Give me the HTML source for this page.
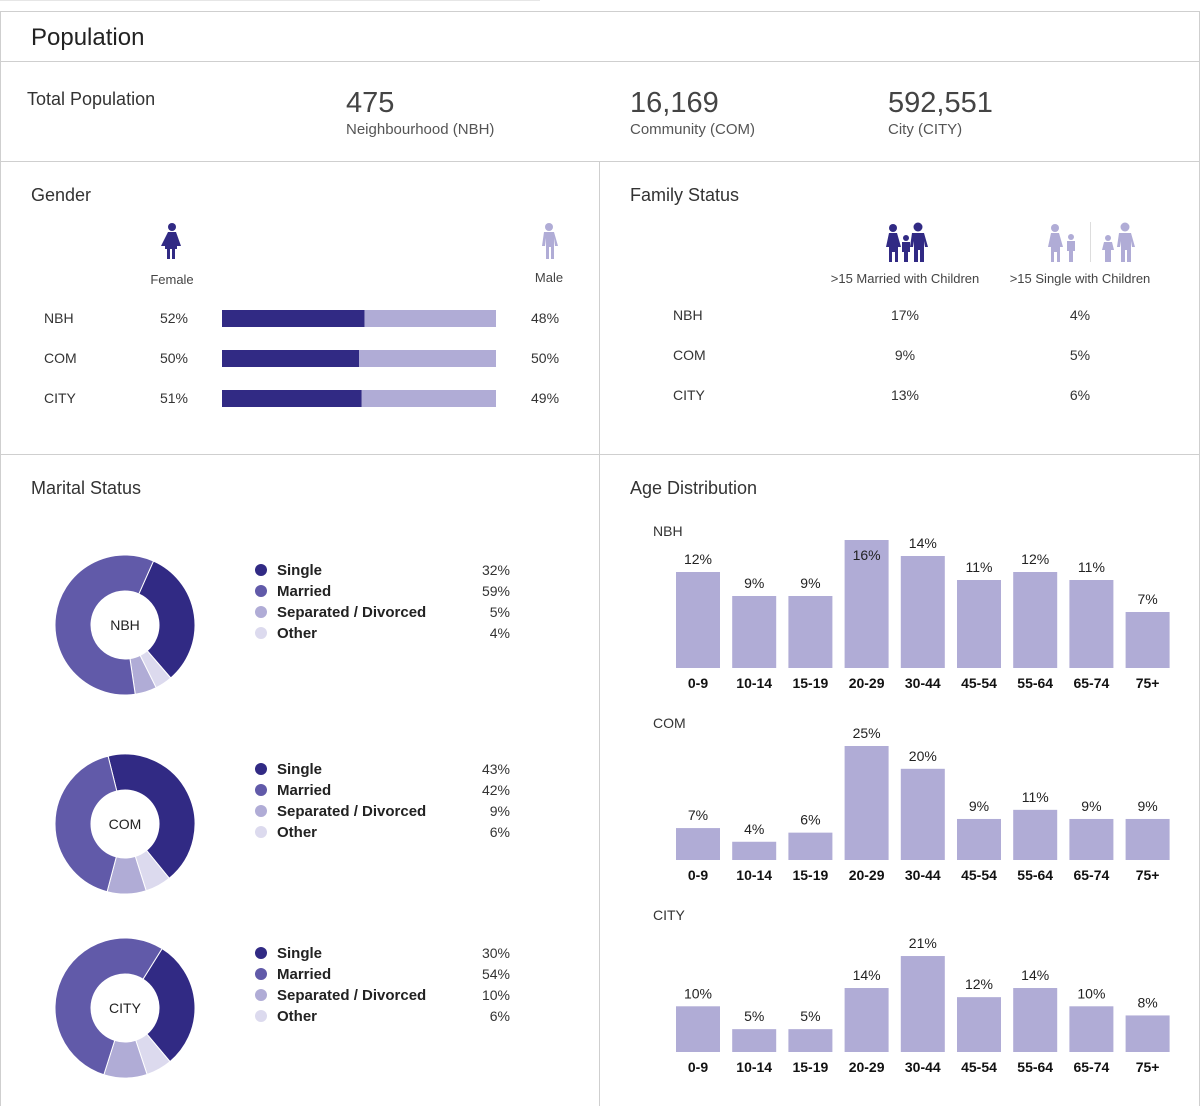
<!DOCTYPE html>
<html><head><meta charset="utf-8"><style>
body{margin:0;background:#fff;font-family:"Liberation Sans",sans-serif;}
svg text{font-family:"Liberation Sans",sans-serif;}
</style></head><body>
<svg id="s" width="1200" height="1106" xmlns="http://www.w3.org/2000/svg">
<g stroke="#cfcfcf" stroke-width="1" fill="none">
<line x1="0" y1="0.5" x2="540" y2="0.5" stroke="#e6e6e6"/>
<rect x="0.5" y="11.5" width="1199" height="1100"/>
<line x1="0" y1="61.5" x2="1200" y2="61.5"/>
<line x1="0" y1="161.5" x2="1200" y2="161.5"/>
<line x1="599.5" y1="161" x2="599.5" y2="1106"/>
<line x1="0" y1="454.5" x2="1200" y2="454.5"/>
</g>
<text x="31" y="45" font-size="24" fill="#222">Population</text>
<text x="27" y="105" font-size="18" fill="#333">Total Population</text>
<g><text x="346" y="112" font-size="29" fill="#444">475</text><text x="346" y="134" font-size="15" fill="#555">Neighbourhood (NBH)</text></g>
<g><text x="630" y="112" font-size="29" fill="#444">16,169</text><text x="630" y="134" font-size="15" fill="#555">Community (COM)</text></g>
<g><text x="888" y="112" font-size="29" fill="#444">592,551</text><text x="888" y="134" font-size="15" fill="#555">City (CITY)</text></g>

<text x="31" y="201" font-size="18" fill="#333">Gender</text>
<g fill="#312a84"><circle cx="172" cy="227" r="4"/><path d="M168 232h8l5 14h-4v3h-2v10h-3v-10h-2v10h-3v-10h-2v-3h-4z"/></g>
<text x="172" y="284" font-size="13" text-anchor="middle" fill="#444">Female</text>
<g fill="#b0acd6"><circle cx="549" cy="227" r="4"/><path d="M544 232h10l4 14h-3l-1-8v21h-3v-12h-2v12h-3v-21l-1 8h-3z"/></g>
<text x="549" y="282" font-size="13" text-anchor="middle" fill="#444">Male</text>
<g id="gender"></g>

<text x="630" y="201" font-size="18" fill="#333">Family Status</text>
<g fill="#312a84">
<circle cx="893" cy="228" r="4"/><path d="M889 233h8l4 14h-3v15h-3v-10h-3v10h-3v-15h-3z"/>
<circle cx="906" cy="238" r="3"/><path d="M902 242h8v10h-2v10h-4v-10h-2z"/>
<circle cx="918" cy="227" r="4.5"/><path d="M912 233h12l4 14h-3l-1-6v21h-4v-12h-2v12h-4v-21l-1 6h-3z"/></g>
<g fill="#b0acd6">
<circle cx="1055" cy="228" r="4"/><path d="M1051 233h8l4 14h-3v15h-3v-10h-3v10h-3v-15h-3z"/>
<circle cx="1071" cy="237" r="3"/><path d="M1067 241h8v10h-2v11h-4v-11h-2z"/>
<rect x="1090" y="222" width="1" height="40" fill="#ddd"/>
<circle cx="1108" cy="238" r="3"/><path d="M1104 242h8l2 8h-3v12h-6v-12h-3z"/>
<circle cx="1125" cy="227" r="4.5"/><path d="M1119 233h12l4 14h-3l-1-6v21h-4v-12h-2v12h-4v-21l-1 6h-3z"/></g>
<text x="905" y="283" font-size="13" text-anchor="middle" fill="#444">&gt;15 Married with Children</text>
<text x="1080" y="283" font-size="13" text-anchor="middle" fill="#444">&gt;15 Single with Children</text>
<g id="family"></g>

<text x="31" y="494" font-size="18" fill="#333">Marital Status</text>
<g id="marital"></g>
<text x="630" y="494" font-size="18" fill="#333">Age Distribution</text>
<g id="age"></g>
</svg>
<script>
const NS="http://www.w3.org/2000/svg";
const geoLabels=["NBH","COM","CITY"];
const femaleShare=[52,50,51];
const maleShare=[48,50,49];
const marriedWithChildren=[17,9,13];
const singleWithChildren=[4,5,6];
const maritalCategories=["Single","Married","Separated / Divorced","Other"];
const maritalNBH=[32,59,5,4];
const maritalCOM=[43,42,9,6];
const maritalCITY=[30,54,10,6];
const ageCategories=["0-9","10-14","15-19","20-29","30-44","45-54","55-64","65-74","75+"];
const ageNBH=[12,9,9,16,14,11,12,11,7];
const ageCOM=[7,4,6,25,20,9,11,9,9];
const ageCITY=[10,5,5,14,21,12,14,10,8];
function el(tag,attrs,parent,txt){const e=document.createElementNS(NS,tag);for(const k in attrs)e.setAttribute(k,attrs[k]);if(txt!==undefined)e.textContent=txt;parent.appendChild(e);return e;}
// gender
const g=document.getElementById('gender');
const gx=x=>222+x/100*274;
geoLabels.forEach((lab,i)=>{const y=318+i*40;
 const row=el('g',{},g);
 
 
 el('text',{x:44,y:y+5,'font-size':14,fill:'#333'},row,lab);
 el('text',{x:188,y:y+5,'font-size':14,fill:'#333','text-anchor':'end'},row,femaleShare[i]+'%');
 const f=el('rect',{x:222,y:y-8,width:gx(femaleShare[i])-222,height:17,fill:'#312a84'},row);
 
 
 const m=el('rect',{x:gx(femaleShare[i]),y:y-8,width:gx(100)-gx(femaleShare[i]),height:17,fill:'#b0acd6'},row);
 
 
 el('text',{x:531,y:y+5,'font-size':14,fill:'#333'},row,maleShare[i]+'%');
});
// family
const fm=document.getElementById('family');
geoLabels.forEach((lab,i)=>{const y=320+i*40;
 const row=el('g',{},fm);
 
 
 el('text',{x:673,y:y,'font-size':14,fill:'#333'},row,lab);
 el('text',{x:905,y:y,'font-size':14,fill:'#333','text-anchor':'middle'},row,marriedWithChildren[i]+'%');
 el('text',{x:1080,y:y,'font-size':14,fill:'#333','text-anchor':'middle'},row,singleWithChildren[i]+'%');
});
// marital donuts
const mr=document.getElementById('marital');
const maritalColors=["#312a84","#615aa9","#b0acd6","#dcdaee"];
const drawOrder=[0,3,2,1];
const donutSets=[maritalNBH,maritalCOM,maritalCITY];
const donutStart=[24,-14,32];
const donutCY=[625,824,1008];
function pt(cx,cy,r,a){const t=(a-90)*Math.PI/180;return [cx+r*Math.cos(t),cy+r*Math.sin(t)];}
donutSets.forEach((vals,d)=>{const cx=125,cy=donutCY[d],R=70,r=34;
 const grp=el('g',{},mr);
 
 
 const tot=vals.reduce((a,b)=>a+b,0);let a=donutStart[d];
 drawOrder.forEach(k=>{const sw=vals[k]/tot*360,a2=a+sw,lg=sw>180?1:0;
  const p1=pt(cx,cy,R,a),p2=pt(cx,cy,R,a2),p3=pt(cx,cy,r,a2),p4=pt(cx,cy,r,a);
  const p=el('path',{d:`M${p1}A${R},${R} 0 ${lg} 1 ${p2}L${p3}A${r},${r} 0 ${lg} 0 ${p4}Z`,fill:maritalColors[k],stroke:'#fff','stroke-width':1},grp);
  
  
  a=a2;});
 el('text',{x:cx,y:cy+5,'font-size':14,fill:'#222','text-anchor':'middle'},grp,geoLabels[d]);
 const ly=[570,769,953][d];
 maritalCategories.forEach((c,k)=>{const y=ly+k*21;
  const le=el('g',{},grp);
  
  
  el('circle',{cx:261,cy:y,r:6,fill:maritalColors[k]},le);
  el('text',{x:277,y:y+5,'font-size':15,fill:'#222','font-weight':'bold'},le,c);
  el('text',{x:510,y:y+5,'font-size':14,fill:'#333','text-anchor':'end'},le,vals[k]+'%');
 });
});
// age charts
const ag=document.getElementById('age');
const ageSets=[ageNBH,ageCOM,ageCITY];
const ageBase=[668,860,1052];
const ageScale=[8,4.56,4.57];
const ageTitleY=[536,728,920];
ageSets.forEach((vals,c)=>{
 const grp=el('g',{},ag);
 
 
 el('text',{x:653,y:ageTitleY[c],'font-size':14,fill:'#333'},grp,geoLabels[c]);
 const xs=i=>676+i*56.2,yv=v=>ageBase[c]-v*ageScale[c];
 vals.forEach((v,i)=>{
  const b=el('rect',{x:xs(i),y:yv(v),width:44,height:ageBase[c]-yv(v),fill:'#b0acd6'},grp);
  
  
  let ty=yv(v)-8;if(ty<ageTitleY[c]+10)ty=yv(v)+20;
  el('text',{x:xs(i)+22,y:ty,'font-size':14,fill:'#222','text-anchor':'middle'},grp,v+'%');
  el('text',{x:xs(i)+22,y:ageBase[c]+20,'font-size':14,fill:'#111','font-weight':'bold','text-anchor':'middle'},grp,ageCategories[i]);
 });
});
</script>
</body></html>
